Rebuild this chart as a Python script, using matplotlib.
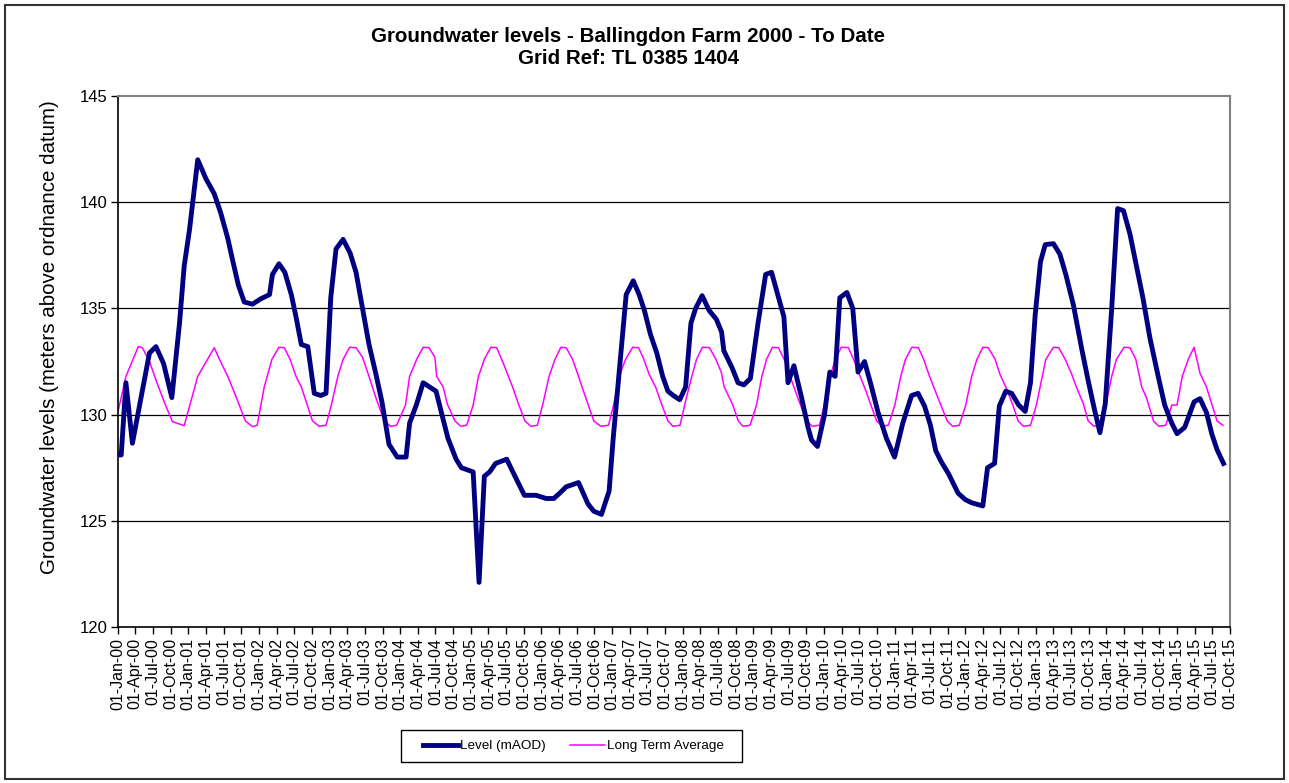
import matplotlib
matplotlib.use("Agg")
import matplotlib.pyplot as plt
from matplotlib.patches import Rectangle

plt.rcParams['font.family'] = ['Liberation Sans', 'DejaVu Sans']

# ---- data (x = months since 01-Jan-2000) ----
level_month = [0.0, 0.6, 1.4, 2.5, 4.1, 5.4, 6.5, 7.8, 9.2, 10.5, 11.3, 12.2, 13.6, 15.0, 16.4, 17.5,
               18.7, 19.5, 20.5, 21.5, 22.9, 24.3, 25.8, 26.3, 27.4, 28.4, 29.5, 30.3, 31.2, 32.3,
               33.4, 34.5, 35.4, 36.2, 37.1, 38.3, 39.5, 40.5, 41.6, 42.7, 43.8, 44.9, 46.1, 47.5,
               49.0, 49.6, 50.8, 51.9, 53.0, 54.1, 55.0, 56.1, 57.5, 58.4, 60.4, 61.4, 62.3, 63.2,
               64.2, 66.1, 67.5, 69.1, 71.1, 72.8, 74.1, 75.1, 76.2, 78.3, 79.9, 80.9, 82.2, 83.5,
               84.2, 85.3, 86.4, 87.6, 88.6, 89.5, 90.5, 91.6, 92.6, 93.5, 94.4, 95.5, 96.5, 97.4,
               98.2, 99.3, 100.5, 101.7, 102.6, 103.0, 104.4, 105.4, 106.4, 107.5, 108.8, 110.1,
               111.1, 112.1, 113.2, 113.9, 114.9, 116.2, 117.3, 117.9, 118.9, 120.1, 121.0, 121.9,
               122.7, 123.9, 124.9, 125.8, 126.9, 128.0, 129.2, 130.6, 132.0, 133.4, 134.9, 136.0,
               137.1, 138.1, 139.0, 139.9, 141.2, 142.8, 144.0, 145.1, 147.0, 147.8, 149.0, 149.8,
               150.9, 151.9, 153.1, 154.2, 155.1, 155.9, 156.8, 157.6, 159.0, 160.1, 161.1, 162.4,
               163.8, 164.9, 166.0, 166.9, 167.8, 168.9, 169.9, 170.9, 172.0, 173.1, 174.2, 175.4,
               176.8, 177.9, 179.1, 180.0, 181.3, 182.9, 183.9, 185.0, 185.9, 186.8, 187.9]
level_value = [128.1, 128.1, 131.5, 128.65, 131.0, 132.9, 133.2, 132.4, 130.8, 134.3, 137.0, 138.7,
               142.0, 141.1, 140.4, 139.5, 138.3, 137.3, 136.1, 135.3, 135.2, 135.45, 135.65, 136.6,
               137.1, 136.7, 135.65, 134.6, 133.3, 133.2, 131.0, 130.9, 131.0, 135.5, 137.8, 138.25,
               137.6, 136.7, 135.0, 133.3, 132.0, 130.6, 128.6, 128.0,
               128.0, 129.6, 130.5, 131.5, 131.3, 131.1, 130.1, 128.9, 127.9, 127.5, 127.3, 122.1,
               127.1, 127.3, 127.7, 127.9, 127.1, 126.2, 126.2, 126.05, 126.05, 126.3, 126.6, 126.8,
               125.8, 125.45, 125.3, 126.4, 128.9, 132.3, 135.65, 136.3, 135.65, 134.9, 133.8, 132.9,
               131.8, 131.1, 130.9, 130.7, 131.3, 134.3, 135.0, 135.6, 134.9, 134.5, 133.9, 133.0,
               132.2, 131.5, 131.4, 131.7, 134.3, 136.6, 136.7, 135.7, 134.6, 131.5, 132.3, 130.8,
               129.4, 128.8, 128.5, 130.0, 132.0, 131.8, 135.5, 135.75, 135.0, 132.0, 132.5, 131.4,
               130.1, 128.9, 128.0, 129.6, 130.9, 131.0, 130.4, 129.5, 128.3, 127.8, 127.2, 126.3,
               126.0, 125.85, 125.7, 127.5, 127.7, 130.4, 131.1, 131.0, 130.45, 130.15, 131.5, 134.7,
               137.2, 138.0, 138.05, 137.55, 136.6, 135.15, 133.1, 131.6, 130.2, 129.15, 130.5, 135.0,
               139.7, 139.6, 138.5, 137.0, 135.5, 133.6, 131.8, 130.45, 129.6, 129.1, 129.4, 130.6,
               130.75, 130.1, 129.1, 128.35, 127.7]

lta_month = [0.1, 1.4, 3.5, 4.2, 5.4, 6.6, 8.0, 9.3, 11.3, 13.6, 16.4, 17.3, 18.7, 20.1, 21.7, 22.9,
             23.7, 24.9, 26.2, 27.4, 28.3, 29.3, 30.3, 31.2, 33.1, 34.2, 35.4, 36.3, 37.4, 38.3,
             39.4, 40.5, 41.6, 42.7, 43.8, 45.3, 46.4, 47.4, 48.9, 49.6, 50.8, 51.9, 52.9, 53.9,
             54.2, 55.3, 56.0, 57.3, 58.3, 59.3, 60.4, 61.3, 62.3, 63.4, 64.4, 65.4, 67.1, 68.1,
             69.2, 70.2, 71.3, 72.2, 73.3, 74.3, 75.3, 76.2, 77.3, 78.3, 78.9, 80.9, 82.1, 83.4,
             84.3, 85.2, 86.3, 87.5, 88.5, 89.4, 90.3, 91.4, 92.4, 93.5, 94.35, 95.55, 96.55,
             97.55, 98.35, 99.35, 100.55, 101.65, 102.55, 103.05, 104.45, 105.45, 106.25, 107.45,
             108.55, 109.45, 110.25, 111.25, 112.25, 113.25, 114.25, 115.35, 117.05, 118.05,
             119.25, 120.05, 121.05, 121.95, 122.95, 124.15, 125.05, 126.15, 127.15, 128.95,
             129.95, 130.95, 132.05, 133.05, 133.85, 134.95, 136.05, 136.95, 137.95, 139.15,
             140.95, 141.85, 143.0, 144.1, 145.1, 146.0, 147.0, 147.9, 149.1, 149.9, 150.9, 152.1,
             153.0, 153.9, 155.1, 156.1, 157.7, 159.0, 159.9, 161.0, 162.1, 162.9, 164.1, 164.9,
             165.9, 166.9, 167.9, 168.9, 169.7, 171.0, 172.0, 173.0, 174.0, 174.8, 176.0, 176.9,
             178.1, 179.1, 180.0, 180.9, 181.9, 182.9, 183.9, 185.0, 186.8, 187.8]
lta_value = [130.2, 131.8, 133.2, 133.15, 132.5, 131.55, 130.53, 129.67, 129.48, 131.8, 133.15, 132.6,
             131.8, 130.85, 129.7, 129.43, 129.5, 131.3, 132.6, 133.17, 133.15, 132.6, 131.8, 131.3,
             129.7, 129.45, 129.5, 130.45, 131.8, 132.6, 133.17, 133.15, 132.7, 131.8, 130.85,
             129.7, 129.45, 129.5, 130.45, 131.8, 132.6, 133.17, 133.15, 132.7, 131.8, 131.3, 130.5,
             129.7, 129.45, 129.5, 130.45, 131.8, 132.6, 133.17, 133.15, 132.5, 131.3, 130.5, 129.7,
             129.45, 129.5, 130.45, 131.8, 132.6, 133.17, 133.15, 132.6, 131.8, 131.3, 129.7, 129.45,
             129.5, 130.5, 131.8, 132.6, 133.17, 133.15, 132.6, 131.9, 131.3, 130.5, 129.7, 129.45,
             129.5, 130.7, 131.8, 132.6, 133.17, 133.15, 132.6, 132.0, 131.3, 130.5, 129.7, 129.45,
             129.5, 130.45, 131.8, 132.6, 133.17, 133.15, 132.6, 131.8, 130.95, 129.7, 129.45,
             129.5, 130.45, 131.8, 132.6, 133.17, 133.15, 132.6, 131.8, 131.1, 129.7, 129.45, 129.5,
             130.45, 131.8, 132.6, 133.17, 133.15, 132.6, 131.8, 130.95, 129.7, 129.45, 129.5,
             130.45, 131.8, 132.6, 133.17, 133.15, 132.6, 131.9, 131.3, 130.45, 129.7, 129.45,
             129.5, 130.45, 132.6, 133.17, 133.15, 132.6, 131.9, 131.3, 130.5, 129.7, 129.45, 129.5,
             130.45, 131.8, 132.6, 133.17, 133.15, 132.6, 131.3, 130.8, 129.7, 129.45, 129.5, 130.45,
             130.45, 131.8, 132.6, 133.17, 131.95, 131.3, 129.7, 129.5]

month_names = ['Jan', 'Feb', 'Mar', 'Apr', 'May', 'Jun', 'Jul', 'Aug', 'Sep', 'Oct', 'Nov', 'Dec']
tick_months = list(range(0, 190, 3))
tick_labels = ["01-%s-%02d" % (month_names[m % 12], m // 12) for m in tick_months]
y_ticks = [120, 125, 130, 135, 140, 145]

# ---- figure ----
W, H = 1289, 783
fig = plt.figure(figsize=(W / 100, H / 100), dpi=100)
ax = fig.add_axes([117.7 / W, 1 - 627 / H, (1230 - 117.7) / W, (627 - 96) / H])

ax.plot(level_month, level_value, color='#000080', lw=3.5, solid_joinstyle='round',
        label='Level (mAOD)', zorder=3)
ax.plot(lta_month, lta_value, color='#FF00FF', lw=1.1, label='Long Term Average', zorder=2)

ax.set_xlim(0, 189)
ax.set_ylim(120, 145)
ax.set_yticks(y_ticks)
ax.set_xticks(tick_months)
ax.set_xticklabels(tick_labels, rotation=90, fontsize=11.5)
ax.tick_params(axis='y', labelsize=12, direction='out', length=5, width=1, pad=2.5)
ax.tick_params(axis='x', direction='out', length=5, width=1, pad=3)
for y in [125, 130, 135, 140]:
    ax.axhline(y, color='black', lw=0.9, zorder=1)
for s in ['left', 'bottom']:
    ax.spines[s].set_color('black')
    ax.spines[s].set_linewidth(1.2)
for s in ['top', 'right']:
    ax.spines[s].set_color('#808080')
    ax.spines[s].set_linewidth(1.5)

fig.text(50 / W, 1 - 337 / H, 'Groundwater levels (meters above ordnance datum)',
         rotation=90, ha='center', va='center', fontsize=14.8)

fig.text(628 / W, 1 - 37 / H, 'Groundwater levels - Ballingdon Farm 2000 - To Date',
         ha='center', va='center', fontsize=14.8, fontweight='bold')
fig.text(628 / W, 1 - 59 / H, 'Grid Ref: TL 0385 1404',
         ha='center', va='center', fontsize=14.8, fontweight='bold')

leg = fig.legend(loc='center', bbox_to_anchor=(573 / W, 1 - 746 / H), ncol=2, fontsize=9.7,
                 frameon=False, handlelength=2.6, handletextpad=0.15, columnspacing=1.8)
fig.patches.append(Rectangle((400.5 / W, 1 - 762 / H), (742 - 400.5) / W, 32 / H,
                             transform=fig.transFigure, fill=False, edgecolor='black', lw=1.0))

fig.patches.append(Rectangle((5 / W, 4 / H), (W - 10) / W, (H - 9) / H, transform=fig.transFigure,
                             fill=False, edgecolor='#333333', lw=1.5))

fig.savefig('out.png', dpi=100)
